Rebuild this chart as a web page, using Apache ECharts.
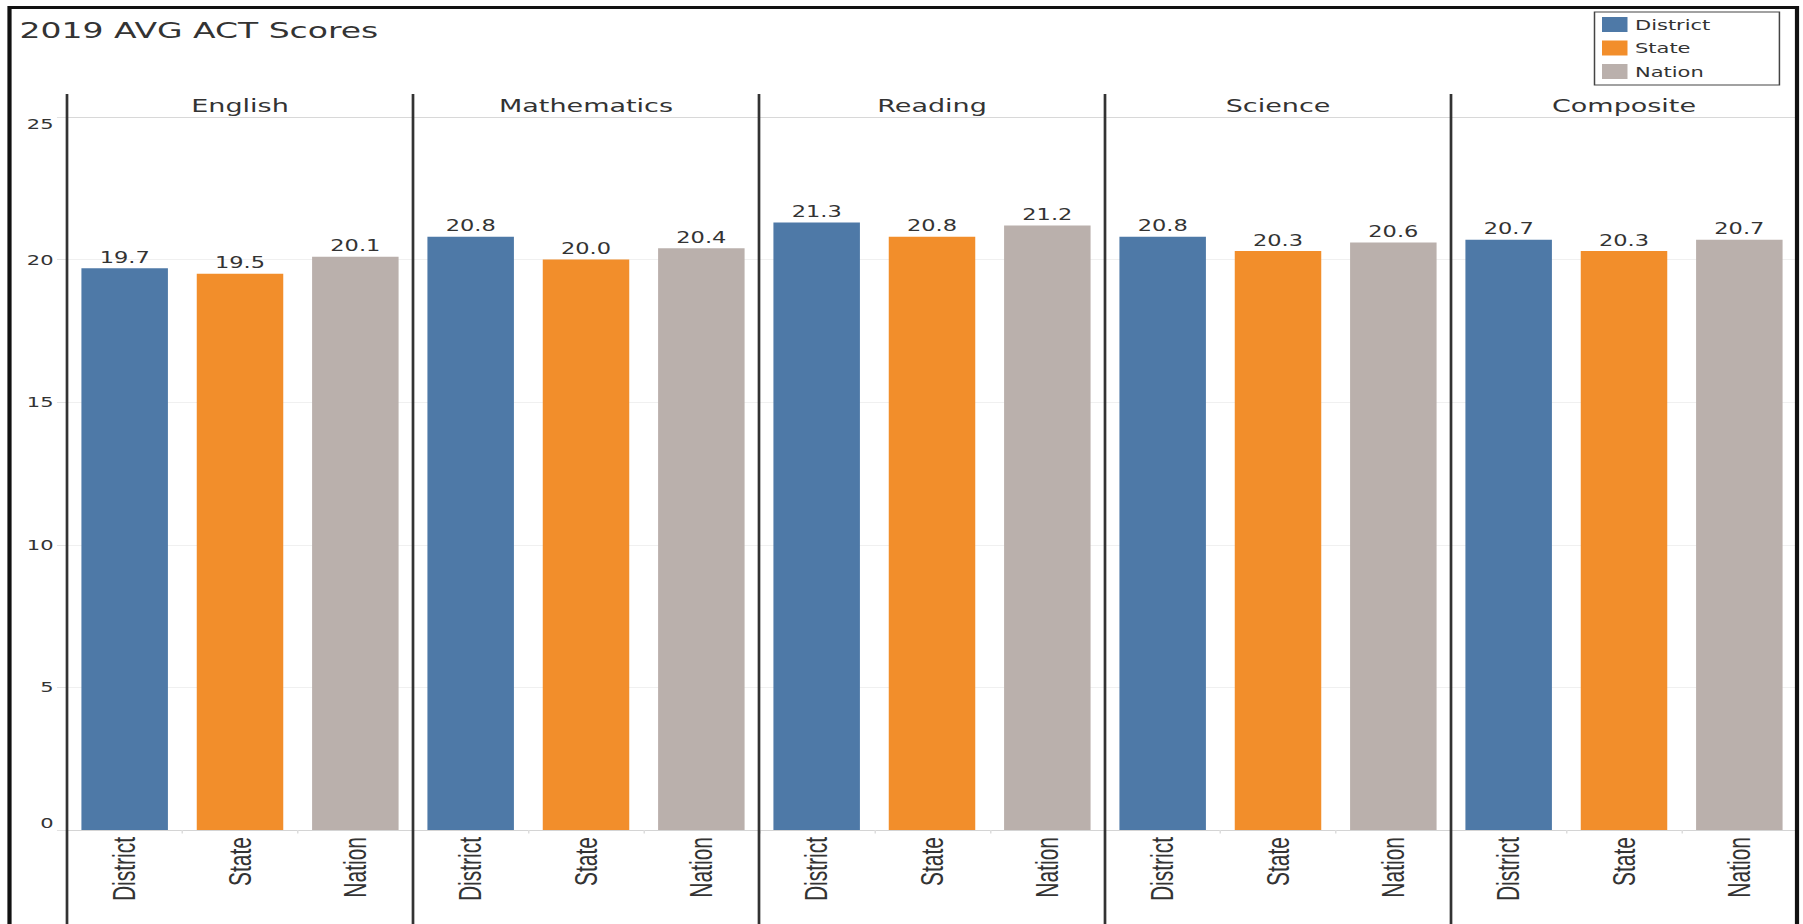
<!DOCTYPE html>
<html>
<head>
<meta charset="utf-8">
<script src="https://cdn.jsdelivr.net/npm/echarts@6/dist/echarts.min.js"></script>
<style>
  html, body { margin: 0; padding: 0; background: #fff; overflow: hidden; }
  #wrap { position: absolute; left: 0; top: 0; width: 1803px; height: 924px; overflow: hidden; }
  #chart { position: absolute; left: 0; top: 0; width: 1202px; height: 924px; transform: scaleX(1.5); transform-origin: 0 0; }
</style>
</head>
<body>
<div id="wrap"><div id="chart"></div></div>
<script>
// ---------------- data ----------------
const chartTitle = '2019 AVG ACT Scores';
const subjects = ['English', 'Mathematics', 'Reading', 'Science', 'Composite'];
const groups = ['District', 'State', 'Nation'];
const district = [19.7, 20.8, 21.3, 20.8, 20.7];
const state    = [19.5, 20.0, 20.8, 20.3, 20.3];
const nation   = [20.1, 20.4, 21.2, 20.6, 20.7];
const yMin = 0, yMax = 25, yStep = 5;

// ---------------- styling / layout ----------------
const groupValues = [district, state, nation];
const groupColors = ['#4e79a7', '#f28e2b', '#bab0ac'];
const SANS = '"DejaVu Sans", Verdana, sans-serif';
const NARROW = '"Liberation Sans", Arial, sans-serif';
const W = 1202, H = 924;
const panelsLeft = 44.67, panelsRight = 1198;
const panelW = (panelsRight - panelsLeft) / subjects.length;
const gridTop = 117, gridBottom = 94;
const headerTop = 96.5, dividerTop = 94;

const chart = echarts.init(document.getElementById('chart'), null, { renderer: 'svg' });

const grids = [], xAxes = [], yAxes = [], series = [], graphics = [];
subjects.forEach((subj, i) => {
  const left = panelsLeft + i * panelW;
  grids.push({ left: left, width: panelW, top: gridTop, bottom: gridBottom, containLabel: false });
  xAxes.push({
    type: 'category', gridIndex: i, data: groups,
    axisLine: { show: true, lineStyle: { color: '#d4d4d4', width: 1 } },
    axisTick: { show: true, length: 3.5, lineStyle: { color: '#dddddd' } },
    axisLabel: { rotate: 90, interval: 0, margin: 7, fontFamily: NARROW, fontSize: 21, color: '#333' }
  });
  yAxes.push({
    type: 'value', gridIndex: i, min: yMin, max: yMax, interval: yStep,
    axisLine: { show: false },
    axisTick: { show: i === 0, length: 6.7, lineStyle: { color: '#e2e2e2' } },
    axisLabel: {
      show: i === 0, margin: 9, fontFamily: SANS, fontSize: 14, color: '#333',
      verticalAlignMinLabel: 'bottom', verticalAlignMaxLabel: 'top'
    },
    splitLine: { show: true, lineStyle: { width: 1, color: ['#dddddd', '#f0f0f0', '#f0f0f0', '#f0f0f0', '#f0f0f0', '#d8d8d8'] } }
  });
  groups.forEach((g, k) => {
    series.push({
      name: g, type: 'bar', xAxisIndex: i, yAxisIndex: i,
      barWidth: '75%', barGap: '-100%',
      itemStyle: { color: groupColors[k] },
      data: groups.map((_, j) => (j === k ? groupValues[k][i] : '-')),
      label: {
        show: true, position: 'top', distance: 3,
        fontFamily: SANS, fontSize: 15, color: '#333',
        formatter: p => (typeof p.value === 'number' ? p.value.toFixed(1) : '')
      },
      emphasis: { disabled: true }
    });
  });
  // panel header
  graphics.push({
    type: 'text', x: left + panelW / 2, y: headerTop, z: 10,
    style: { text: subj, fill: '#333', font: '18px ' + SANS, textAlign: 'center', align: 'center', textVerticalAlign: 'top', verticalAlign: 'top' }
  });
  // panel divider
  graphics.push({
    type: 'line', z: 10, shape: { x1: left, y1: dividerTop, x2: left, y2: H },
    style: { stroke: '#333', lineWidth: 1.8 }
  });
});

// outer frame
graphics.push({
  type: 'rect', z: 20,
  shape: { x: 6.33, y: 7.5, width: panelsRight - 6.33, height: H + 20 },
  style: { fill: 'none', stroke: '#111', lineWidth: 2.8 }
});

chart.setOption({
  animation: false,
  backgroundColor: '#fff',
  title: {
    text: chartTitle, left: 13, top: 20, padding: 0,
    textStyle: { fontFamily: SANS, fontSize: 22, fontWeight: 'normal', color: '#333' }
  },
  legend: {
    data: groups, orient: 'vertical', left: 1063, top: 12,
    padding: [5, 46, 6, 5], itemGap: 8.5, itemWidth: 17, itemHeight: 15, icon: 'rect',
    borderColor: '#444', borderWidth: 1, selectedMode: false,
    textStyle: { fontFamily: SANS, fontSize: 14, color: '#333', lineHeight: 15 }
  },
  grid: grids,
  xAxis: xAxes,
  yAxis: yAxes,
  series: series,
  graphic: { elements: graphics }
});
</script>
</body>
</html>
